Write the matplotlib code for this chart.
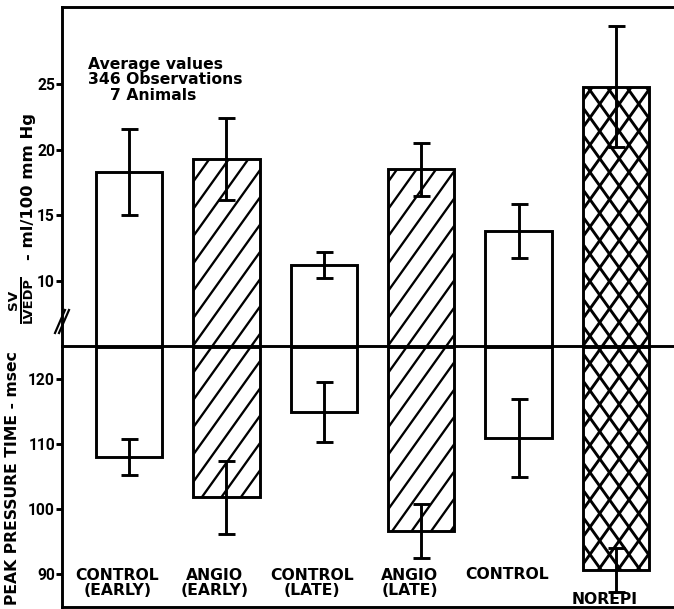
import matplotlib
matplotlib.use("Agg")
import matplotlib.pyplot as plt
from matplotlib.lines import Line2D
from matplotlib.collections import LineCollection
from matplotlib.transforms import IdentityTransform

# ---------------- data ----------------
categories = ["CONTROL\n(EARLY)", "ANGIO\n(EARLY)", "CONTROL\n(LATE)",
              "ANGIO\n(LATE)", "CONTROL", "NOREPI"]
sv_lvedp = [18.3, 19.3, 11.2, 18.5, 13.8, 24.8]          # ml/100 mm Hg
sv_lvedp_err = [3.25, 3.1, 1.0, 2.0, 2.05, 4.6]
peak_time = [108.0, 101.8, 114.9, 96.6, 110.9, 90.6]      # msec
peak_time_err = [2.8, 5.6, 4.6, 4.1, 6.0, 3.4]
upper_ticks = [10, 15, 20, 25]
lower_ticks = [90, 100, 110, 120]
hatches = ["", "/", "", "/", "", "x"]
note_lines = ["Average values", "346 Observations", "7 Animals"]

# ---------------- style ----------------
W, H, DPI = 674, 609, 88
PT = DPI / 72.0          # pixels per point


def pt(px):
    return px / PT


plt.rcParams["font.family"] = ["DejaVu Sans"]
plt.rcParams["font.weight"] = "bold"
FS = pt(15.6)
LW = pt(2.9)


def fx(x):
    return x / W


def fy(y):
    return 1 - y / H


def add_hatch(ax, patch, kind, spacing=19.5, slope=1.4, lw_px=2.3):
    """Draw hand-made hatch lines (display pixels) clipped to a bar."""
    if not kind:
        return
    run = H / slope
    segs = []
    n_lo = int(-run // spacing) - 2
    n_hi = int((W + run) // spacing) + 2
    for k in range(n_lo, n_hi):
        x0 = k * spacing + 5
        if "/" in kind or "x" in kind:
            segs.append([(x0, 0), (x0 + run, H)])
        if "x" in kind:
            segs.append([(x0, 0), (x0 - run, H)])
    lc = LineCollection(segs, colors="black", linewidths=pt(lw_px),
                        transform=IdentityTransform(), zorder=2.5)
    ax.add_collection(lc, autolim=False)
    lc.set_clip_path(patch)


fig = plt.figure(figsize=(W / DPI, H / DPI), dpi=DPI)
left, right = fx(62), 1.0
mid, top, bot = fy(346), fy(7), fy(607)
ax_up = fig.add_axes([left, mid, right - left, top - mid])
ax_lo = fig.add_axes([left, bot, right - left, mid - bot])

x = list(range(len(categories)))
xlim = (-0.688, 5.596)
bw = 0.68

# upper panel
up_base = 5.0
bars_up = ax_up.bar(x, [v - up_base for v in sv_lvedp], bottom=up_base, width=bw,
                    color="white", edgecolor="black", linewidth=LW, zorder=2)
ax_up.errorbar(x, sv_lvedp, yerr=sv_lvedp_err, fmt="none", ecolor="black",
               elinewidth=LW, capsize=pt(8.5), capthick=LW, zorder=3)
ax_up.set_xlim(*xlim)
ax_up.set_ylim(5.05, 30.86)
ax_up.set_yticks(upper_ticks)
ax_up.set_xticks([])

# lower panel
lo_base = 125.0
bars_lo = ax_lo.bar(x, [v - lo_base for v in peak_time], bottom=lo_base, width=bw,
                    color="white", edgecolor="black", linewidth=LW, zorder=2)
ax_lo.errorbar(x, peak_time, yerr=peak_time_err, fmt="none", ecolor="black",
               elinewidth=LW, capsize=pt(8.5), capthick=LW, zorder=3)
ax_lo.set_xlim(*xlim)
ax_lo.set_ylim(84.9, 125.08)
ax_lo.set_yticks(lower_ticks)
ax_lo.set_xticks([])

for ax, bars in ((ax_up, bars_up), (ax_lo, bars_lo)):
    for p, h in zip(bars.patches, hatches):
        add_hatch(ax, p, h, lw_px=2.9 if h == "x" else 2.3)

for ax in (ax_up, ax_lo):
    ax.spines["right"].set_visible(False)
    for s in ("left", "top", "bottom"):
        ax.spines[s].set_linewidth(LW)
    ax.tick_params(axis="y", direction="out", length=pt(6), width=LW, pad=pt(1),
                   labelsize=FS)
    for t in ax.get_yticklabels():
        t.set_fontfamily(["Roboto", "DejaVu Sans"])
        t.set_fontweight("bold")
    ax.patch.set_visible(False)
ax_lo.spines["top"].set_visible(False)

# category labels
for i, lab in enumerate(categories):
    if lab == "NOREPI":
        yv = 86.0
    elif "\n" in lab:
        yv = 88.55
    else:
        yv = 89.85
    ax_lo.text(i - 0.12, yv, lab, ha="center", va="center", fontsize=FS,
               fontweight="bold", linespacing=1.0, zorder=5)

# annotation
fig.text(fx(88), fy(64), note_lines[0], ha="left", va="center", fontsize=FS, fontweight="bold")
fig.text(fx(88), fy(80), note_lines[1], ha="left", va="center", fontsize=FS, fontweight="bold")
fig.text(fx(110), fy(96), note_lines[2], ha="left", va="center", fontsize=FS, fontweight="bold")

# axis titles (upper one is a stacked fraction SV / LVEDP)
fig.text(fx(14), fy(300), "SV", rotation=90, ha="center", va="center",
         fontsize=pt(13.5), fontweight="bold")
fig.text(fx(28), fy(300), "LVEDP", rotation=90, ha="center", va="center",
         fontsize=pt(13), fontweight="bold")
fig.add_artist(Line2D([fx(21), fx(21)], [fy(278), fy(323)], transform=fig.transFigure,
                      color="black", linewidth=pt(2)))
fig.text(fx(28.5), fy(187), "- ml/100 mm Hg", rotation=90, ha="center", va="center",
         fontsize=pt(16.5), fontweight="bold")
fig.text(fx(13), fy(478), "PEAK PRESSURE TIME - msec", rotation=90,
         ha="center", va="center", fontsize=FS, fontweight="bold")

# axis-break marks
for dx in (0, 4):
    fig.add_artist(Line2D([fx(55 + dx), fx(65 + dx)], [fy(333), fy(310)],
                          transform=fig.transFigure, color="black", linewidth=pt(2.2)))

fig.savefig("out.png", dpi=DPI)
